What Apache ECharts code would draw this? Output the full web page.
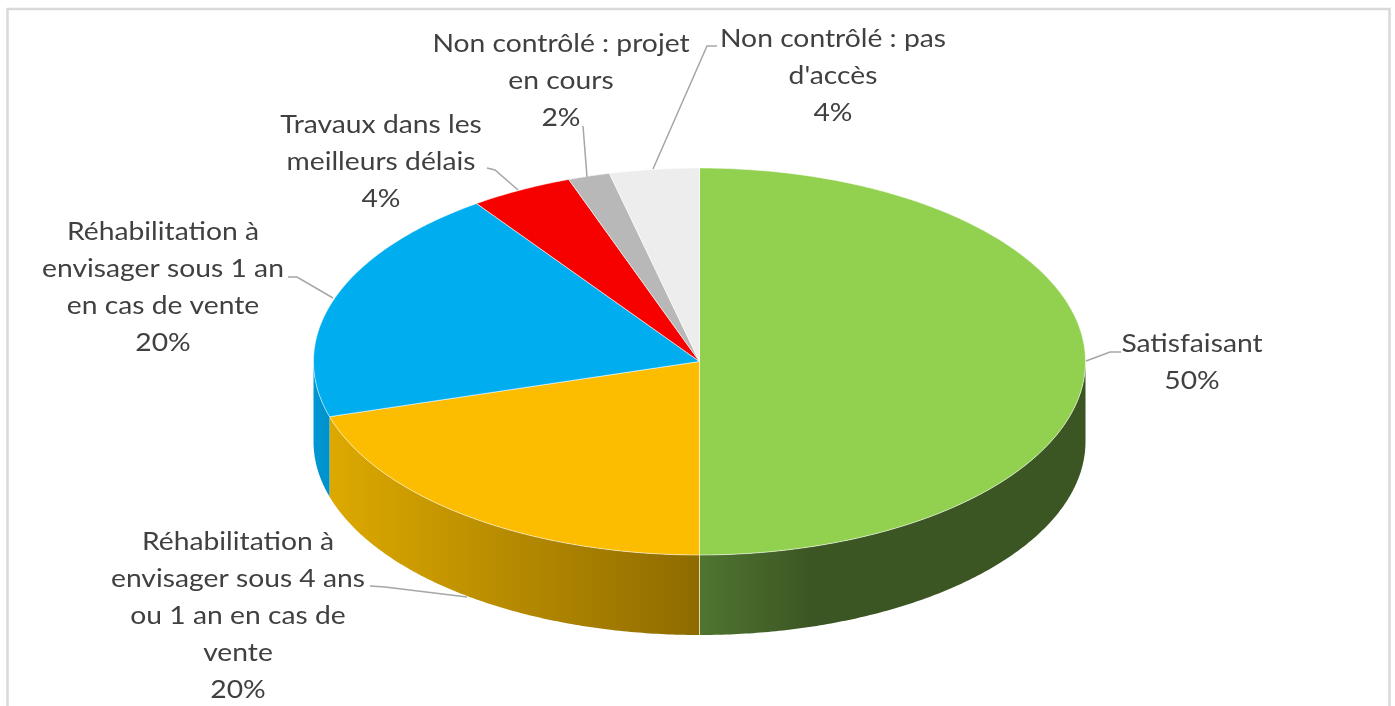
<!DOCTYPE html>
<html>
<head>
<meta charset="utf-8">
<style>html,body{margin:0;padding:0;background:#fff}#c{width:1395px;height:706px}</style>
<script src="https://cdn.jsdelivr.net/npm/echarts@6/dist/echarts.min.js"></script>
</head>
<body>
<div id="c"></div>
<script>
const categories = ["Satisfaisant", "Réhabilitation à\nenvisager sous 4 ans\nou 1 an en cas de\nvente", "Réhabilitation à\nenvisager sous 1 an\nen cas de vente", "Travaux dans les\nmeilleurs délais", "Non contrôlé : projet\nen cours", "Non contrôlé : pas\nd'accès"];
const values = [50, 20.4, 19.8, 4.3, 1.75, 3.75];
const percentLabels = ["50%", "20%", "20%", "4%", "2%", "4%"];

// Presentation only
const topColors = ["#92D050", "#FCBC00", "#00AEEF", "#F60000", "#B8B8B8", "#EDEDED"];
const sideStops = [
  [[0, "#4F7530"], [0.3, "#3B5523"], [1, "#3B5523"]],
  [[0, "#DDA900"], [1, "#8E6B00"]],
  [[0, "#0097D2"], [1, "#0091CB"]],
  null, null, null
];
const labelCenters = [[1192, 344], [238, 542], [163, 232], [381, 125], [561, 44], [833, 39]];
const leaders = [
  [[1086, 361], [1110, 352], [1121, 352]],
  [[467, 597], [385, 587], [370, 586]],
  [[333, 298], [297, 277], [288, 277]],
  [[518, 190], [495, 170], [487, 168]],
  [[587, 177], [583, 126]],
  [[653, 169], [707, 46], [717, 46]]
];
const CX = 699.5, CY = 361.5, RX = 386, RY = 193.5, DEPTH = 80, LH = 37;
const TEXT = "#404040", FONT = "Lato, Carlito, sans-serif", FS = 25, STRETCH = 1.13;

const total = values.reduce((a, b) => a + b, 0);
function pt(a, dy) { return [CX + RX * Math.sin(a), CY - RY * Math.cos(a) + (dy || 0)]; }
function arc(a0, a1, dy) {
  const out = [], n = Math.max(2, Math.ceil((a1 - a0) / 0.01));
  for (let i = 0; i <= n; i++) out.push(pt(a0 + (a1 - a0) * i / n, dy));
  return out;
}
function renderItem(params, api) {
  const i = params.dataIndex;
  const before = values.slice(0, i).reduce((a, b) => a + b, 0);
  const a0 = before / total * 2 * Math.PI;
  const a1 = a0 + api.value(0) / total * 2 * Math.PI;
  const children = [];
  const s0 = Math.max(a0, Math.PI / 2), s1 = Math.min(a1, Math.PI * 1.5);
  if (s1 > s0 && sideStops[i]) {
    const top = arc(s0, s1, 0), bot = arc(s0, s1, DEPTH).reverse();
    children.push({
      type: "polygon", shape: { points: top.concat(bot) },
      style: { fill: new echarts.graphic.LinearGradient(0, 0, 1, 0, sideStops[i].map(s => ({ offset: s[0], color: s[1] }))) }
    });
    if (i === 1) children.push({ type: "line", shape: { x1: CX, y1: CY + RY, x2: CX, y2: CY + RY + DEPTH }, style: { stroke: "rgba(255,240,200,0.75)", lineWidth: 1 } });
  }
  children.push({
    type: "polygon", shape: { points: [[CX, CY]].concat(arc(a0, a1, 0)) },
    style: { fill: topColors[i], stroke: "rgba(255,255,255,0.7)", lineWidth: 0.8 }
  });
  children.push({
    type: "polyline", shape: { points: leaders[i] },
    style: { stroke: "#A6A6A6", lineWidth: 1.5, fill: null }
  });
  const c = labelCenters[i];
  children.push({
    type: "text", x: c[0], y: c[1] - LH / 2, scaleX: STRETCH,
    style: {
      text: categories[i] + "\n" + percentLabels[i], fill: TEXT,
      font: FS + "px " + FONT, align: "center", verticalAlign: "top", lineHeight: LH
    }
  });
  return { type: "group", children };
}
const chart = echarts.init(document.getElementById("c"));
chart.setOption({
  animation: false,
  backgroundColor: "#fff",
  graphic: [{
    type: "rect", silent: true, z: -10,
    shape: { x: 7.5, y: 9, width: 1382, height: 760 },
    style: { fill: "#fff", stroke: "#D9D9D9", lineWidth: 2.5 }
  }],
  series: [{
    type: "custom", coordinateSystem: "none", silent: true, clip: false,
    renderItem,
    data: values.map((v, i) => ({ name: categories[i], value: [v] }))
  }]
});
</script>
</body>
</html>
